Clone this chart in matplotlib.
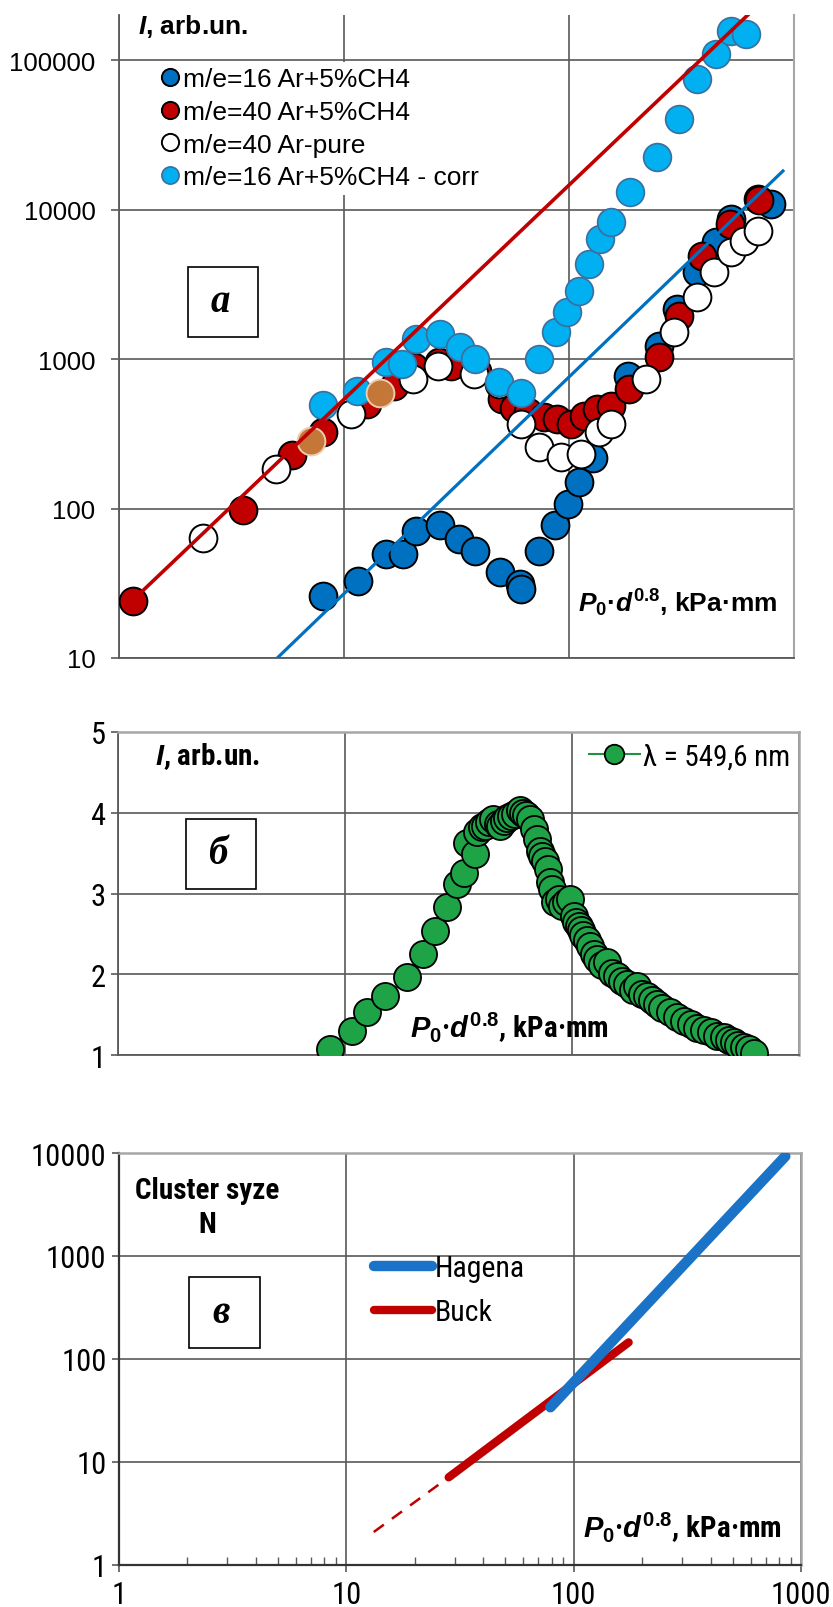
import matplotlib
matplotlib.use('Agg')
import matplotlib.pyplot as plt
from matplotlib import font_manager
from matplotlib.patches import Rectangle
from matplotlib.ticker import NullLocator, FixedLocator, NullFormatter

# ---------------- data ----------------
# panel a
m16_x = [8.1, 11.5, 15.3, 18.2, 21.0, 26.8, 32.6, 38.4, 49.5, 60.5, 61.5, 73.5, 87.0, 99.0, 111, 128, 182, 251, 303, 372, 449, 524, 689, 789]
m16_y = [25.9, 32.9, 49.6, 49.5, 71, 77, 62.5, 52, 37.5, 31.5, 29, 52, 77, 108, 150, 217, 773, 1227, 2160, 3800, 6030, 8640, 11760, 10880]

m40_x = [1.15, 3.55, 5.9, 8.1, 12.7, 16.6, 20.4, 26.5, 30.0, 39.0, 50.5, 57.0, 66.0, 77.3, 88.7, 101.6, 116.5, 133.6, 153, 185, 251, 308, 392, 520, 700]
m40_y = [24, 98, 228, 324, 500, 663, 880, 960, 900, 835, 540, 470, 441, 407, 397, 367, 418, 463, 487, 630, 1026, 1950, 4910, 8000, 11500]

ar_x = [2.37, 4.98, 10.7, 20.3, 26.1, 37.8, 48.8, 60.9, 73.5, 91.8, 112.7, 135.9, 153, 219, 293, 372, 441, 524, 600, 689]
ar_y = [63, 184, 429, 735, 902, 794, 683, 370, 257, 222, 231, 324, 370, 740, 1510, 2590, 3800, 5170, 6180, 7210]

corr_x = [8.1, 11.4, 15.4, 18.1, 20.9, 26.8, 32.7, 38.4, 48.8, 61.5, 73.5, 87.2, 98.3, 110.7, 122.6, 138, 153, 187, 247, 308, 372, 449, 524, 611]
corr_y = [492, 614, 950, 926, 1360, 1470, 1197, 1000, 698, 590, 1000, 1510, 2052, 2864, 4320, 6350, 8210, 13150, 22300, 40300, 74600, 110000, 157000, 149000]

brown_x = [7.15, 14.4]
brown_y = [284, 593]

fit40_x = [1.13, 623]
fit40_y = [23.7, 200000]
fit16_x = [5.05, 893]
fit16_y = [10, 18100]

labels_a = ['m/e=16 Ar+5%CH4', 'm/e=40 Ar+5%CH4', 'm/e=40 Ar-pure', 'm/e=16 Ar+5%CH4 - corr']
yticks_a = [10, 100, 1000, 10000, 100000]

# panel b
green_x = [8.6, 10.7, 12.5, 15.0, 18.7, 22.0, 24.9, 28.1, 31.1, 33.5, 34.4, 37.2, 38.1, 40, 41.5,
           43, 45.1, 47, 48.3, 50, 51.7, 54, 56, 59.1, 61, 63, 65.5, 67.7, 69.8, 72.1,
           74, 75.8, 78.4, 79.8, 82, 84, 87.3, 90, 94, 98.3, 102, 104, 107, 110, 112,
           116, 120.5, 125, 129, 135, 142.6, 150, 158, 166, 175, 185, 194, 204, 214, 225,
           237, 250, 271, 290, 311, 333, 356, 380, 408, 436, 466, 490, 516, 540, 571, 600, 632]
green_y = [1.08, 1.30, 1.53, 1.73, 1.96, 2.25, 2.54, 2.83, 3.12, 3.26, 3.62, 3.49, 3.76, 3.82, 3.84,
           3.88, 3.92, 3.86, 3.84, 3.90, 3.94, 3.96, 3.98, 4.04, 4.0, 3.97, 3.92, 3.80, 3.67, 3.53,
           3.47, 3.40, 3.30, 3.14, 3.05, 2.9, 2.93, 2.85, 2.90, 2.93, 2.72, 2.65, 2.60, 2.55, 2.48,
           2.42, 2.35, 2.25, 2.19, 2.12, 2.15, 2.02, 1.98, 1.92, 1.88, 1.80, 1.86, 1.76, 1.73, 1.68,
           1.63, 1.58, 1.53, 1.47, 1.42, 1.38, 1.34, 1.31, 1.28, 1.24, 1.22, 1.19, 1.16, 1.13, 1.10, 1.07, 1.03]
label_b = 'λ = 549,6 nm'
yticks_b = [1, 2, 3, 4, 5]

# panel c
hagena_x = [79, 853]
hagena_y = [34, 9290]
buck_x = [28.2, 174.5]
buck_y = [7.1, 145]
buck_ext_x = [13.2, 28.2]
buck_ext_y = [2.09, 7.1]
yticks_c = [1, 10, 100, 1000, 10000]
xticks = [1, 10, 100, 1000]

# ---------------- style ----------------
names = {f.name for f in font_manager.fontManager.ttflist}
SANS = 'Liberation Sans'
NARROW = SANS
for cand in ('Liberation Sans Narrow', 'Arial Narrow', 'Roboto Condensed'):
    if cand in names:
        NARROW = cand
        break
NS = 21 if NARROW != SANS else 19   # size for the (narrow-looking) panels b and c
SERIF = 'Liberation Serif'

plt.rcParams['font.family'] = [SANS, 'DejaVu Sans']
plt.rcParams['mathtext.fontset'] = 'custom'
plt.rcParams['mathtext.rm'] = 'Liberation Sans:bold'
plt.rcParams['mathtext.it'] = 'Liberation Sans:italic:bold'
plt.rcParams['mathtext.bf'] = 'Liberation Sans:bold'

DBLUE = '#0070C0'
RED = '#C00000'
LBLUE = '#00B0F0'
GREEN = '#1FA347'
GRID = '#595959'
FRAME = '#A6A6A6'

W, H = 833, 1608
fig = plt.figure(figsize=(W / 100, H / 100), dpi=100)


def rect(l, t, r, b):
    return [l / W, 1 - b / H, (r - l) / W, (b - t) / H]


def ftxt(x, y, s, **kw):
    return fig.text(x / W, 1 - y / H, s, **kw)


def box(l, t, r, b, letter):
    fig.add_artist(Rectangle((l / W, 1 - b / H), (r - l) / W, (b - t) / H,
                             transform=fig.transFigure, facecolor='white',
                             edgecolor='black', lw=1.2, zorder=5))
    ftxt((l + r) / 2 - 3, (t + b) / 2, letter, ha='center', va='center',
         family=SERIF, fontsize=28, fontweight='bold', style='italic', zorder=6)


def style_grid(ax):
    ax.set_axisbelow(True)
    ax.grid(True, which='major', color=GRID, lw=1.2)


P_LABEL = '$P_0$·$d^{0.8}$, kPa·mm'
I_LABEL = '$I$, arb.un.'

# ---------------- panel a ----------------
ax1 = fig.add_axes(rect(119, 16, 794, 659))
ax1.set_xscale('log')
ax1.set_yscale('log')
ax1.set_xlim(1, 1000)
ax1.set_ylim(10, 2e5)
style_grid(ax1)
ax1.xaxis.set_major_locator(FixedLocator(xticks))
ax1.xaxis.set_minor_locator(NullLocator())
ax1.xaxis.set_major_formatter(NullFormatter())
ax1.tick_params(axis='x', length=0)
ax1.set_yticks(yticks_a, [str(v) for v in yticks_a])
ax1.yaxis.set_minor_locator(NullLocator())
ax1.tick_params(axis='y', length=6, width=1.2, color=GRID, pad=11, labelsize=18.5,
                labelfontfamily=SANS)
ax1.spines['top'].set_visible(False)
ax1.spines['right'].set_color(FRAME)
ax1.spines['right'].set_linewidth(1.5)
for s in ('left', 'bottom'):
    ax1.spines[s].set_color(GRID)
    ax1.spines[s].set_linewidth(1.3)

MS = 20
h1, = ax1.plot(m16_x, m16_y, 'o', ms=MS, mfc=DBLUE, mec='black', mew=1.4, ls='none', label=labels_a[0], zorder=3)
h2, = ax1.plot(m40_x, m40_y, 'o', ms=MS, mfc=RED, mec='black', mew=1.4, ls='none', label=labels_a[1], zorder=4)
h3, = ax1.plot(ar_x, ar_y, 'o', ms=MS, mfc='white', mec='black', mew=1.4, ls='none', label=labels_a[2], zorder=5)
h4, = ax1.plot(corr_x, corr_y, 'o', ms=MS, mfc=LBLUE, mec='#3C6E9E', mew=1.2, ls='none', label=labels_a[3], zorder=6)
ax1.plot(brown_x, brown_y, 'o', ms=MS, mfc='#C5773A', mec='#EBCDAE', mew=1.4, ls='none', zorder=6)
ax1.plot(fit40_x, fit40_y, '-', color=RED, lw=2.6, zorder=7)
ax1.plot(fit16_x, fit16_y, '-', color=DBLUE, lw=2.3, zorder=7)

leg1 = ax1.legend(handles=[h1, h2, h3, h4], loc='upper left',
                  bbox_to_anchor=(155 / W, 1 - 63 / H), bbox_transform=fig.transFigure,
                  frameon=True, framealpha=1, facecolor='white', edgecolor='none', fancybox=False,
                  markerscale=0.62, handlelength=0.7, handletextpad=0.15, borderpad=0.2,
                  borderaxespad=0, labelspacing=0.33, prop={'family': SANS, 'size': 19})
leg1.set_zorder(10)

ftxt(138, 27, I_LABEL, ha='left', va='center', fontsize=19, fontweight='bold')
ftxt(777, 603, P_LABEL, ha='right', va='center', fontsize=19, fontweight='bold')
box(188, 268, 258, 338, 'а')

# ---------------- panel b ----------------
ax2 = fig.add_axes(rect(118, 733, 799, 1056))
ax2.set_xscale('log')
ax2.set_xlim(1, 1000)
ax2.set_ylim(1, 5)
style_grid(ax2)
ax2.xaxis.set_major_locator(FixedLocator(xticks))
ax2.xaxis.set_minor_locator(NullLocator())
ax2.xaxis.set_major_formatter(NullFormatter())
ax2.tick_params(axis='x', length=0)
ax2.set_yticks(yticks_b, [str(v) for v in yticks_b])
ax2.tick_params(axis='y', length=5, width=1.2, color=GRID, pad=4, labelsize=NS + 1,
                labelfontfamily=NARROW)
for s in ('top', 'right'):
    ax2.spines[s].set_color(FRAME)
    ax2.spines[s].set_linewidth(1.8)
for s in ('left', 'bottom'):
    ax2.spines[s].set_color(GRID)
    ax2.spines[s].set_linewidth(1.3)

hg, = ax2.plot(green_x, green_y, '-o', color='#1E9440', lw=1.5, ms=19.5, mfc=GREEN,
               mec='black', mew=1.3, label=label_b, zorder=3)
leg2 = ax2.legend(handles=[hg], loc='upper right',
                  bbox_to_anchor=(797 / W, 1 - 736 / H), bbox_transform=fig.transFigure,
                  frameon=True, framealpha=1, facecolor='white', edgecolor='none', fancybox=False,
                  markerscale=0.72, handlelength=1.75, handletextpad=0.1, borderpad=0.25,
                  borderaxespad=0, prop={'family': NARROW, 'size': NS})
leg2.set_zorder(10)

ftxt(155, 757, I_LABEL, ha='left', va='center', fontsize=NS, fontweight='bold', family=NARROW)
ftxt(410, 1028, P_LABEL, ha='left', va='center', fontsize=NS, fontweight='bold', family=NARROW)
box(186, 820, 256, 890, 'б')

# ---------------- panel c ----------------
ax3 = fig.add_axes(rect(119, 1154, 801, 1566))
ax3.set_xscale('log')
ax3.set_yscale('log')
ax3.set_xlim(1, 1000)
ax3.set_ylim(1, 10000)
style_grid(ax3)
ax3.set_xticks(xticks, [str(v) for v in xticks])
ax3.set_yticks(yticks_c, [str(v) for v in yticks_c])
ax3.yaxis.set_minor_locator(NullLocator())
ax3.tick_params(axis='y', length=5, width=1.2, color=GRID, pad=4, labelsize=NS + 1,
                labelfontfamily=NARROW)
ax3.tick_params(axis='x', which='major', length=5, width=1.2, color=GRID, pad=6,
                labelsize=NS + 1, labelfontfamily=NARROW)
ax3.tick_params(axis='x', which='minor', direction='in', length=6, width=1.0, color=GRID)
for s in ('top', 'right'):
    ax3.spines[s].set_color(FRAME)
    ax3.spines[s].set_linewidth(1.8)
for s in ('left', 'bottom'):
    ax3.spines[s].set_color('#333333')
    ax3.spines[s].set_linewidth(1.6)

ax3.plot(buck_ext_x, buck_ext_y, color=RED, lw=1.8, dashes=(5, 4), zorder=3)
hb, = ax3.plot(buck_x, buck_y, color=RED, lw=6, solid_capstyle='round', label='Buck', zorder=3)
hh, = ax3.plot(hagena_x, hagena_y, color='#1A73C6', lw=7.5, solid_capstyle='round', label='Hagena', zorder=4)
leg3 = ax3.legend(handles=[hh, hb], loc='upper left',
                  bbox_to_anchor=(368 / W, 1 - 1249 / H), bbox_transform=fig.transFigure,
                  frameon=False, handlelength=1.95, handletextpad=0.1, borderpad=0.2,
                  borderaxespad=0, labelspacing=0.55, prop={'family': NARROW, 'size': NS + 0.5})

ftxt(207, 1208, 'Cluster syze\nN', ha='center', va='center', multialignment='center',
     fontsize=NS, fontweight='bold', family=NARROW, linespacing=1.3)
ftxt(782, 1528, P_LABEL, ha='right', va='center', fontsize=NS, fontweight='bold', family=NARROW)
box(189, 1278, 260, 1349, 'в')

fig.savefig('out.png', dpi=100)
